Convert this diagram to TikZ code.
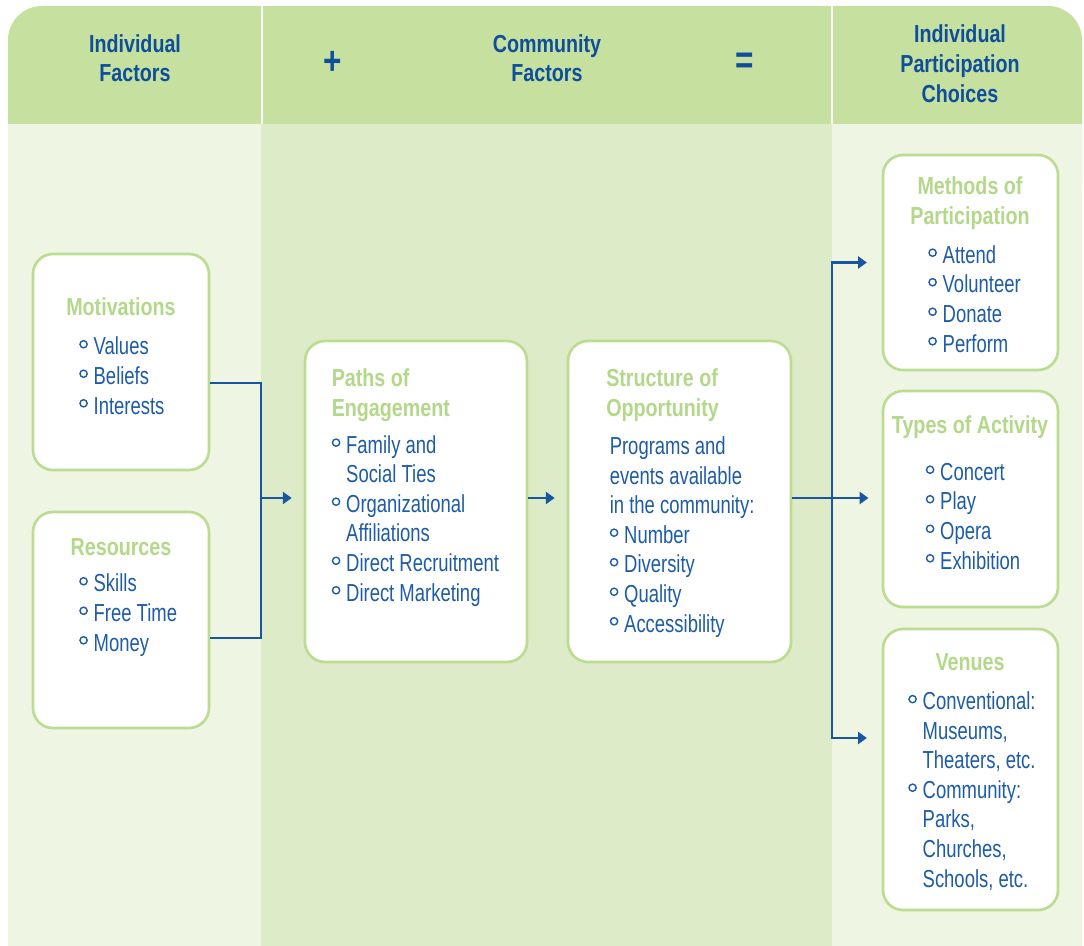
\documentclass[tikz,border=0pt]{standalone}
\usepackage{fontspec}
\setmainfont[FakeStretch=0.75]{Liberation Sans}
\newfontfamily\headfont[FakeStretch=0.8]{Liberation Sans}
\usetikzlibrary{arrows.meta,fit}

\definecolor{hdrgreen}{RGB}{198,224,160}
\definecolor{lightbg}{RGB}{238,245,226}
\definecolor{midbg}{RGB}{221,235,200}
\definecolor{boxline}{RGB}{188,220,146}
\definecolor{ttlgreen}{RGB}{180,216,138}
\definecolor{hdrblue}{RGB}{14,78,154}
\definecolor{txtblue}{RGB}{30,92,166}
\definecolor{arrblue}{RGB}{24,86,162}

\newcommand\itemsize{\fontsize{17.5}{21}\selectfont}
\newcommand\bul{\makebox[0.36cm][l]{\raisebox{0.16cm}{\tikz\draw[txtblue,line width=1pt] (0,0) circle [radius=0.09cm];}}}
\newcommand\bulgap{\hspace*{0.36cm}}

\begin{document}
\begin{tikzpicture}[x=0.025cm,y=-0.025cm]

    \tikzset{
      box/.style={
        draw=boxline,
        fill=white,
        line width=1.9pt,
        rounded corners=0.5cm,
        inner sep=0pt,
      },
      hdr/.style={font=\headfont\bfseries\itemsize, text=hdrblue, align=center, anchor=base},
      sign/.style={font=\headfont\bfseries\fontsize{28}{30}\selectfont, text=hdrblue, anchor=center, inner sep=0pt},
      ttl/.style={font=\headfont\bfseries\itemsize, text=ttlgreen, align=center, anchor=base, inner sep=0pt},
      itm/.style={font=\itemsize, text=txtblue, align=left, anchor=base west, inner sep=0pt},
      conn/.style={draw=arrblue, line width=2pt},
      tip/.style={-{Triangle[length=0.22cm,width=0.3cm]}},
    }
    \useasboundingbox (0,0) rectangle (1084,946);

    % background
    \fill[hdrgreen,rounded corners=0.85cm] (8,6) rectangle (1082,220);
    \fill[lightbg] (8,124) rectangle (261,946);
    \fill[midbg] (261,124) rectangle (832,946);
    \fill[lightbg] (832,124) rectangle (1082,946);
    \draw[white,line width=0.05cm] (261.5,6) -- (261.5,124);
    \draw[white,line width=0.05cm] (831.5,6) -- (831.5,124);

    % header (base = last line)
    \node[hdr] (hindiv) at (135,82) {Individual\\Factors};
    \node[sign] (plus) at (333,63) {+};
    \node[hdr] (hcomm) at (547,82) {Community\\Factors};
    \node[sign] (equals) at (745,63) {=};
    \node[hdr] (hchoice) at (960,102) {Individual\\Participation\\Choices};

    % boxes
    \node[box, fit={(33,254) (209,470)}] (motiv) {};
    \node[box, fit={(33,512) (209,728)}] (res) {};
    \node[box, fit={(305,341) (527,662)}] (paths) {};
    \node[box, fit={(568,341) (791,662)}] (struct) {};
    \node[box, fit={(883,155) (1058,370)}] (meth) {};
    \node[box, fit={(883,391) (1058,607)}] (types) {};
    \node[box, fit={(883,629) (1058,910)}] (ven) {};

    % titles
    \node[ttl] (tmotiv) at (121,315) {Motivations};
    \node[ttl] (tres) at (121,555) {Resources};
    \node[ttl, align=left, anchor=base west] (tpaths) at (331.5,416) {Paths of\\Engagement};
    \node[ttl, align=left, anchor=base west] (tstruct) at (606,416) {Structure of\\Opportunity};
    \node[ttl] (tmeth) at (970,224) {Methods of\\Participation};
    \node[ttl] (ttypes) at (970,433) {Types of Activity};
    \node[ttl] (tven) at (970,670) {Venues};

    % lists (placed at the baseline of their last line)
    \node[itm] (lmotiv) at (79,414) {\bul Values\\\bul Beliefs\\\bul Interests};
    \node[itm] (lres) at (79,651) {\bul Skills\\\bul Free Time\\\bul Money};
    \node[itm] (lpaths) at (331.5,601) {\bul Family and\\\bulgap Social Ties\\\bul Organizational\\\bulgap Affiliations\\\bul Direct Recruitment\\\bul Direct Marketing};
    \node[itm] (lstruct) at (609.5,632) {Programs and\\events available\\in the community:\\\bul Number\\\bul Diversity\\\bul Quality\\\bul Accessibility};
    \node[itm] (lmeth) at (928,352) {\bul Attend\\\bul Volunteer\\\bul Donate\\\bul Perform};
    \node[itm] (ltypes) at (925.5,569) {\bul Concert\\\bul Play\\\bul Opera\\\bul Exhibition};
    \node[itm] (lven) at (908,887) {\bul Conventional:\\\bulgap Museums,\\\bulgap Theaters, etc.\\\bul Community:\\\bulgap Parks,\\\bulgap Churches,\\\bulgap Schools, etc.};

    % connectors
    \coordinate (ljoin) at (261,498);
    \coordinate (rjoin) at (832,498);
    \coordinate (mtap) at (0,383);
    \coordinate (rtap) at (0,638);
    \coordinate (vtap) at (0,738);
    \draw[conn] (motiv.east |- mtap) -| (ljoin);
    \draw[conn] (res.east |- rtap) -| (ljoin);
    \draw[conn,tip,shorten >=0.3cm] (ljoin) -- (paths.west |- ljoin);
    \draw[conn,tip,shorten >=0.3cm] (paths.east |- ljoin) -- (struct.west |- ljoin);
    \draw[conn,tip,shorten >=0.33cm] (struct.east |- ljoin) -- (types.west |- ljoin);
    \draw[conn,tip,shorten >=0.37cm] (rjoin) |- (meth.west);
    \draw[conn,tip,shorten >=0.37cm] (rjoin) |- (ven.west |- vtap);

\end{tikzpicture}
\end{document}
